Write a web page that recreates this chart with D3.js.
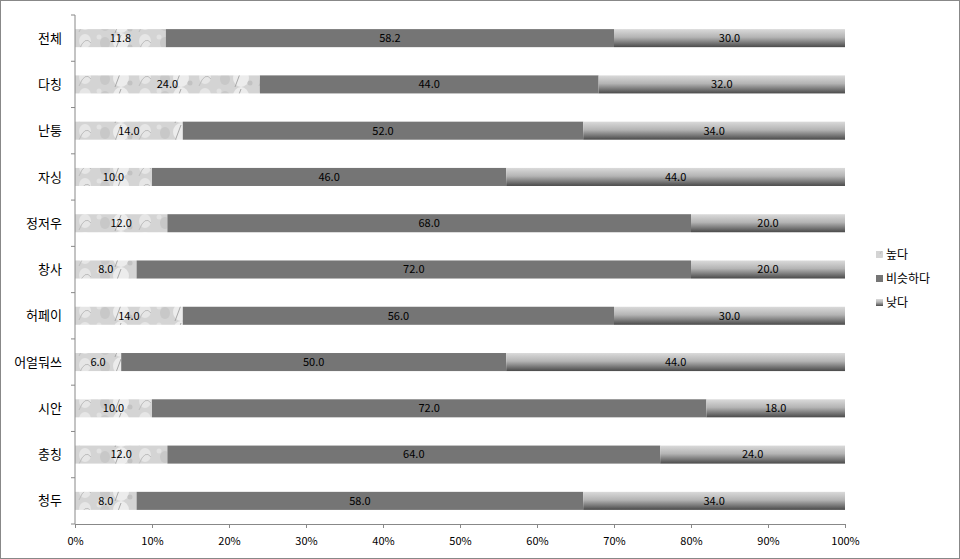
<!DOCTYPE html>
<html>
<head>
<meta charset="utf-8">
<script src="https://cdn.jsdelivr.net/npm/d3@7"></script>
<style>
  body { margin: 0; background: #fff; }
  text { font-family: "Noto Sans CJK KR", "DejaVu Sans", sans-serif; }
</style>
</head>
<body>
<div id="chart"></div>
<script>
// categories and series values (percent)
const categories = ["전체", "다칭", "난퉁", "자싱", "정저우", "창사", "허페이", "어얼둬쓰", "시안", "충칭", "청두"];
const seriesNames = ["높다", "비슷하다", "낮다"];
const high = [11.8, 24.0, 14.0, 10.0, 12.0, 8.0, 14.0, 6.0, 10.0, 12.0, 8.0];
const similar = [58.2, 44.0, 52.0, 46.0, 68.0, 72.0, 56.0, 50.0, 72.0, 64.0, 58.0];
const low = [30.0, 32.0, 34.0, 44.0, 20.0, 20.0, 30.0, 44.0, 18.0, 24.0, 34.0];
const xTicks = [0, 10, 20, 30, 40, 50, 60, 70, 80, 90, 100];

const W = 960, H = 559;
const margin = {top: 15, right: 115, bottom: 35, left: 75};
const width = W - margin.left - margin.right;
const height = H - margin.top - margin.bottom;

const svg = d3.select("#chart").append("svg")
    .attr("width", W)
    .attr("height", H);

// outer frame
svg.append("rect")
    .attr("x", 0.5).attr("y", 0.5)
    .attr("width", W - 1).attr("height", H - 1)
    .attr("fill", "#fff")
    .attr("stroke", "#888");

const defs = svg.append("defs");

// gradient for "낮다"
const grad = defs.append("linearGradient")
    .attr("id", "lowGrad")
    .attr("x1", 0).attr("y1", 0).attr("x2", 0).attr("y2", 1);
grad.append("stop").attr("offset", "0%").attr("stop-color", "#dadada");
grad.append("stop").attr("offset", "45%").attr("stop-color", "#b4b4b4");
grad.append("stop").attr("offset", "100%").attr("stop-color", "#4a4a4a");

// marble-ish texture for "높다"
const pat = defs.append("pattern")
    .attr("id", "highTex")
    .attr("patternUnits", "userSpaceOnUse")
    .attr("width", 60).attr("height", 18);
pat.append("rect").attr("width", 60).attr("height", 18).attr("fill", "#d4d4d4");
pat.append("ellipse").attr("cx", 10).attr("cy", 8).attr("rx", 6).attr("ry", 7).attr("fill", "#e6e6e6");
pat.append("path").attr("d", "M4 17 Q10 2 16 10").attr("fill", "none").attr("stroke", "#bdbdbd").attr("stroke-width", 1);
pat.append("ellipse").attr("cx", 30).attr("cy", 10).attr("rx", 5).attr("ry", 6).attr("fill", "#c8c8c8");
pat.append("ellipse").attr("cx", 46).attr("cy", 9).attr("rx", 8).attr("ry", 9).attr("fill", "#ececec");
pat.append("path").attr("d", "M40 18 L46 2").attr("stroke", "#a8a8a8").attr("stroke-width", 1);
pat.append("circle").attr("cx", 24).attr("cy", 4).attr("r", 2.5).attr("fill", "#e2e2e2");
pat.append("circle").attr("cx", 55).attr("cy", 14).attr("r", 2.5).attr("fill", "#c2c2c2");

const fills = ["url(#highTex)", "#757575", "url(#lowGrad)"];

const g = svg.append("g")
    .attr("transform", "translate(" + margin.left + "," + margin.top + ")");

const x = d3.scaleLinear().domain([0, 100]).range([0, width]);
const y = d3.scaleBand().domain(categories).range([0, height]).paddingInner(0.61).paddingOuter(0.305);
const yOuter = d3.scaleBand().domain(categories).range([0, height]);

// build table and stack
const table = categories.map(function(c, i) {
  return {cat: c, "높다": high[i], "비슷하다": similar[i], "낮다": low[i]};
});
const stacked = d3.stack().keys(seriesNames)(table);

const layers = g.selectAll(".layer")
    .data(stacked)
    .enter().append("g")
    .attr("class", "layer")
    .attr("fill", function(d, i) { return fills[i]; });

layers.selectAll("rect")
    .data(function(d) { return d; })
    .enter().append("rect")
    .attr("x", function(d) { return x(d[0]); })
    .attr("y", function(d) { return y(d.data.cat); })
    .attr("width", function(d) { return x(d[1]) - x(d[0]); })
    .attr("height", y.bandwidth());

// value labels
layers.selectAll("text")
    .data(function(d) { return d; })
    .enter().append("text")
    .attr("x", function(d) { return (x(d[0]) + x(d[1])) / 2; })
    .attr("y", function(d) { return y(d.data.cat) + y.bandwidth() / 2; })
    .attr("dy", "0.35em")
    .attr("text-anchor", "middle")
    .attr("fill", "#000")
    .attr("font-size", "11px")
    .text(function(d) { return (d[1] - d[0]).toFixed(1); });

// x axis
const xAxis = g.append("g")
    .attr("transform", "translate(0," + height + ")")
    .call(d3.axisBottom(x).tickValues(xTicks).tickSize(4).tickFormat(function(d) { return d + "%"; }));
xAxis.select(".domain").attr("stroke", "#888");
xAxis.selectAll(".tick line").attr("stroke", "#888");
xAxis.selectAll("text").attr("font-size", "11px").attr("fill", "#000").attr("dy", "1.3em");

// y axis line and ticks at category boundaries
g.append("line")
    .attr("x1", 0).attr("x2", 0)
    .attr("y1", 0).attr("y2", height)
    .attr("stroke", "#888");
const bounds = categories.map(function(c) { return yOuter(c); }).concat([height]);
g.selectAll(".ytick")
    .data(bounds)
    .enter().append("line")
    .attr("x1", -4).attr("x2", 0)
    .attr("y1", function(d) { return d; })
    .attr("y2", function(d) { return d; })
    .attr("stroke", "#888");

g.selectAll(".ylabel")
    .data(categories)
    .enter().append("text")
    .attr("x", -13)
    .attr("y", function(d) { return y(d) + y.bandwidth() / 2; })
    .attr("dy", "0.35em")
    .attr("text-anchor", "end")
    .attr("font-size", "13px")
    .attr("fill", "#000")
    .text(function(d) { return d; });

// legend
const legend = svg.append("g")
    .attr("transform", "translate(876,255)");
seriesNames.forEach(function(name, i) {
  const row = legend.append("g").attr("transform", "translate(0," + (i * 24) + ")");
  row.append("rect")
      .attr("x", 0).attr("y", -4)
      .attr("width", 7).attr("height", 7)
      .attr("fill", fills[i]);
  row.append("text")
      .attr("x", 10).attr("y", 0)
      .attr("dy", "0.35em")
      .attr("font-size", "12px")
      .attr("fill", "#000")
      .text(name);
});
</script>
</body>
</html>
